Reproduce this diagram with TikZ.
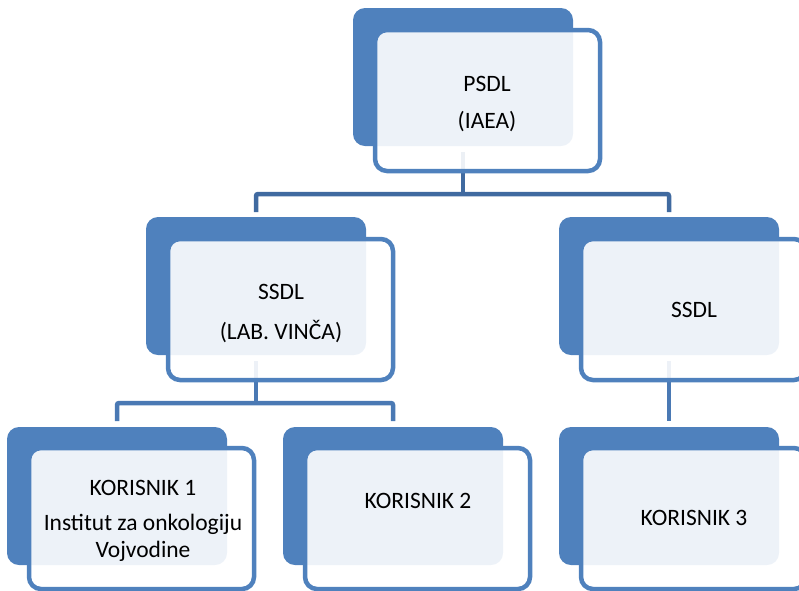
\documentclass[tikz,border=0pt]{standalone}
\usepackage{fontspec}
\setmainfont{Carlito}
\usetikzlibrary{backgrounds}
\definecolor{boxblue}{RGB}{79,129,189}
\definecolor{linetop}{RGB}{64,106,160}
\definecolor{linelow}{RGB}{74,121,180}
\tikzset{
  backbox/.style={fill=boxblue, draw=none, rounded corners=12pt, minimum width=220pt, minimum height=138pt, inner sep=0pt, outer sep=0pt, anchor=north west},
  frontbox/.style={draw=boxblue, line width=4.5pt, fill=white, fill opacity=0.9, rounded corners=12pt, minimum width=225pt, minimum height=141pt, inner sep=0pt, outer sep=0pt, anchor=north west},
  conn/.style={line width=4.5pt, rounded corners=2pt},
  boxtxt/.style={font=\fontsize{23.5pt}{28pt}\selectfont, anchor=base, inner sep=0pt, text=black},
}
\begin{document}
\begin{tikzpicture}[x=1pt,y=-1pt]
\useasboundingbox (0,0) rectangle (799,590);
\clip (0,0) rectangle (799,590);
% back boxes
\node[backbox] (psdlB) at (353,8) {};
\node[backbox] (ssdlLB) at (146,217) {};
\node[backbox] (ssdlRB) at (559,217) {};
\node[backbox] (k1B) at (7,427) {};
\node[backbox] (k2B) at (283,427) {};
\node[backbox] (k3B) at (559,427) {};
% connector junctions
\coordinate (bar1) at (463,194);
\coordinate (bar2) at (256,403);
% connectors (behind boxes)
\begin{scope}[on background layer]
\draw[conn, draw=linetop] ([yshift=-6pt]psdlB.south) -- (bar1);
\draw[conn, draw=linetop] ([yshift=5pt]ssdlLB.north) -- (ssdlLB.north |- bar1) -- (ssdlRB.north |- bar1) -- ([yshift=5pt]ssdlRB.north);
\draw[conn, draw=linelow] ([yshift=-6pt]ssdlLB.south) -- (bar2);
\draw[conn, draw=linelow] ([yshift=6pt]k1B.north) -- (k1B.north |- bar2) -- (k2B.north |- bar2) -- ([yshift=6pt]k2B.north);
\draw[conn, draw=linelow] ([yshift=-6pt]ssdlRB.south) -- ([yshift=6pt]k3B.north);
\end{scope}
% front boxes
\node[frontbox] (psdlF) at (375,30) {};
\node[frontbox] (ssdlLF) at (168,239) {};
\node[frontbox] (ssdlRF) at (581,239) {};
\node[frontbox] (k1F) at (29,448) {};
\node[frontbox] (k2F) at (305,448) {};
\node[frontbox] (k3F) at (581,448) {};
% texts
\node[boxtxt] (t1a) at (487,91) {PSDL};
\node[boxtxt] (t1b) at (487,128) {(IAEA)};
\node[boxtxt] (t2a) at (281,299) {SSDL};
\node[boxtxt] (t2b) at (281,339) {(LAB. VINČA)};
\node[boxtxt] (t3a) at (694,317) {SSDL};
\node[boxtxt] (t4a) at (143,495) {KORISNIK 1};
\node[boxtxt] (t4b) at (143,530) {Institut za onkologiju};
\node[boxtxt] (t4c) at (143,557) {Vojvodine};
\node[boxtxt] (t5a) at (418,508) {KORISNIK 2};
\node[boxtxt] (t6a) at (694,525) {KORISNIK 3};
\end{tikzpicture}
\end{document}
